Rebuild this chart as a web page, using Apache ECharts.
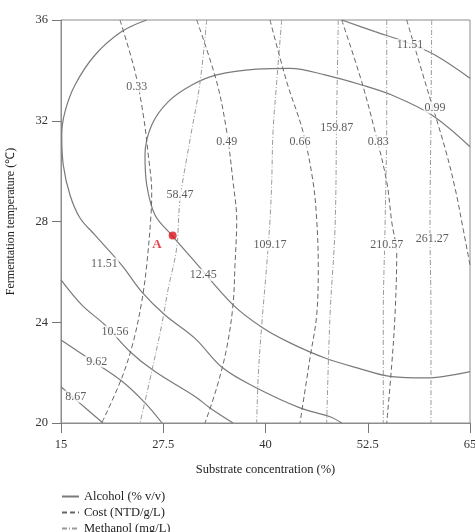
<!DOCTYPE html>
<html style="height: 100%">
<head>
<meta charset="utf-8">
<script src="https://cdn.jsdelivr.net/npm/echarts@6/dist/echarts.min.js"></script>
</head>
<body style="height: 100%; margin: 0">
<div id="contour" style="width: 475px; height: 532px"></div>
<script type="text/javascript">
// tick values
var xTicks = [15, 27.5, 40, 52.5, 65];
var yTicks = [20, 24, 28, 32, 36];

// Alcohol (% v/v) contours, solid
var alc1151a = [[25.48,36],[22.42,35.54],[19.16,34.61],[16.71,33.42],[15.49,32.36],[15.09,31.43],[15.28,30.24],[16.10,29.05],[17.32,28.14],[19.16,27.46],[22.42,26.27],[24.87,25.21],[27.71,24.29],[31.38,23.36],[34.80,22.18],[38.92,21.39],[44.22,20.60],[47.89,20.25],[49.32,20]];
var alc1151b = [[49.32,36],[53.39,35.54],[57.42,35.09],[60.72,34.61],[65,33.69]];
var alc1245 = [[65,30.97],[60.32,32.23],[55.43,33.02],[51.76,33.42],[47.27,33.82],[43.00,34.08],[38.92,34.05],[34.03,33.82],[31.0,33.42],[28.12,32.76],[26.09,31.83],[25.27,30.64],[25.48,29.45],[26.49,28.26],[28.53,27.46],[31.38,26.40],[36.03,24.69],[39.69,23.77],[43.00,23.18],[47.27,22.58],[51.31,22.18],[55.43,21.84],[59.50,21.79],[65,22.04]];
var alc1056 = [[15,25.68],[17.53,24.69],[20.38,23.89],[23.44,22.83],[26.49,22.04],[31.38,21.05],[33.22,20.60],[36.03,20]];
var alc962 = [[15,23.30],[18.30,22.58],[22.42,21.67],[25.27,20.80],[27.35,20]];
var alc867 = [[15,21.44],[17.08,20.85],[20.13,20]];

// Cost (NTD/g/L) contours, dashed
var cost033 = [[22.21,36],[24.05,33.95],[25.06,32.23],[25.67,30.64],[26.09,29.18],[26.0,28.26],[25.48,26.27],[24.87,24.82],[23.84,23.23],[22.42,21.78],[19.98,20]];
var cost049 = [[31.59,36],[34.03,33.55],[35.26,31.57],[36.03,29.58],[36.48,28.06],[36.27,26.27],[36.03,24.69],[35.26,22.98],[34.03,21.39],[32.60,20]];
var cost066 = [[40.55,36],[42.59,33.55],[44.58,31.57],[45.81,29.58],[46.26,28.06],[46.45,26.27],[46.26,24.29],[45.44,22.58],[44.22,20]];
var cost083 = [[49.32,36],[51.76,33.55],[53.39,31.57],[54.82,29.58],[55.43,27.99],[56.04,26.67],[55.83,24.29],[55.43,22.30],[54.82,20]];
var cost099 = [[57.26,36],[59.50,33.55],[61.94,30.92],[63.17,29.33],[64.14,27.74],[65,26.27]];

// Methanol (mg/L) contours, dash-dot
var meth5847 = [[32.81,36],[31.99,33.50],[30.77,31.24],[29.55,28.85],[29.14,26.94],[28.12,25.35],[27.31,23.89],[26.09,22.04],[24.66,20]];
var meth10917 = [[41.98,36],[41.37,33.55],[40.92,31.57],[40.76,29.58],[40.55,28.06],[40.15,26.27],[39.54,23.89],[39.12,21.91],[38.92,20]];
var meth15987 = [[48.90,36],[48.70,32.23],[48.50,27.74],[47.89,24.29],[47.48,20]];
var meth21057 = [[54.82,36],[54.82,32.23],[54.61,27.74],[54.40,24.29],[54.40,20]];
var meth26127 = [[60.32,36],[60.23,32.23],[60.11,27.74],[60.23,24.29],[60.23,20]];

// contour labels [x, y, text]
var contourLabels = [
  [20.3,26.33,'11.51'],[21.6,23.63,'10.56'],[19.36,22.44,'9.62'],[16.8,21.05,'8.67'],
  [32.4,25.88,'12.45'],[57.67,35.0,'11.51'],
  [24.25,33.35,'0.33'],[35.26,31.17,'0.49'],[44.22,31.17,'0.66'],[53.79,31.17,'0.83'],[60.72,32.52,'0.99'],
  [29.55,29.05,'58.47'],[40.55,27.07,'109.17'],[48.70,31.70,'159.87'],[54.82,27.07,'210.57'],[60.39,27.31,'261.27']
];

// optimum point A
var pointA = [[28.65,27.44]];

var alcoholName = 'Alcohol (% v/v)';
var costName = 'Cost (NTD/g/L)';
var methanolName = 'Methanol (mg/L)';

var serif = 'Liberation Serif';

function contour(name, data, color, type, width) {
  return {
    name: name,
    type: 'line',
    data: data,
    smooth: 0.35,
    symbol: 'none',
    silent: true,
    itemStyle: { color: color },
    lineStyle: { color: color, width: width, type: type }
  };
}

var series = [];
[alc1151a, alc1151b, alc1245, alc1056, alc962, alc867].forEach(function (d) {
  series.push(contour(alcoholName, d, '#7a7a7a', 'solid', 1.2));
});
[cost033, cost049, cost066, cost083, cost099].forEach(function (d) {
  series.push(contour(costName, d, '#666666', [5, 3], 1));
});
[meth5847, meth10917, meth15987, meth21057, meth26127].forEach(function (d) {
  series.push(contour(methanolName, d, '#9a9a9a', [5, 2, 1, 2], 1));
});

series.push({
  name: 'labels',
  type: 'scatter',
  data: contourLabels,
  symbolSize: 0,
  silent: true,
  z: 5,
  label: {
    show: true,
    position: 'inside',
    formatter: function (p) { return p.value[2]; },
    color: '#333',
    fontFamily: serif,
    fontSize: 12,
    backgroundColor: '#fff',
    padding: [0, 1]
  }
});

series.push({
  name: 'A',
  type: 'scatter',
  data: pointA,
  symbolSize: 8,
  silent: true,
  z: 6,
  itemStyle: { color: '#d9141b' },
  label: {
    show: true,
    formatter: 'A',
    position: 'left',
    offset: [-2, 9],
    color: '#e0141b',
    fontFamily: serif,
    fontWeight: 'bold',
    fontSize: 13
  }
});

var myChart = echarts.init(document.getElementById('contour'));
var option = {
  animation: false,
  backgroundColor: '#fff',
  grid: {
    left: 61, right: 5, top: 20, bottom: 109,
    containLabel: false,
    outerBoundsMode: 'none',
    show: true, borderColor: '#8c8c8c', borderWidth: 1
  },
  legend: {
    data: [alcoholName, costName, methanolName],
    orient: 'vertical',
    left: 61,
    top: 490,
    height: 60,
    padding: 0,
    itemWidth: 17,
    itemHeight: 10,
    itemGap: 3,
    selectedMode: false,
    itemStyle: { color: 'transparent', borderWidth: 0, opacity: 0 },
    textStyle: { fontFamily: serif, fontSize: 12.5, color: '#222' }
  },
  xAxis: {
    type: 'value',
    min: 15,
    max: 65,
    name: 'Substrate concentration (%)',
    nameLocation: 'middle',
    nameGap: 40,
    nameTextStyle: { fontFamily: serif, fontSize: 12.5, color: '#222' },
    splitLine: { show: false },
    axisLine: { lineStyle: { color: '#8c8c8c' } },
    axisTick: { show: true, length: 10, customValues: xTicks, lineStyle: { color: '#777' } },
    axisLabel: { customValues: xTicks, margin: 15, fontFamily: serif, fontSize: 12.5, color: '#333' }
  },
  yAxis: {
    type: 'value',
    min: 20,
    max: 36,
    interval: 4,
    name: 'Fermentation temperature (\u2103)',
    nameLocation: 'middle',
    nameGap: 44,
    nameTextStyle: { fontFamily: serif, fontSize: 12, color: '#222' },
    splitLine: { show: false },
    axisLine: { show: true, lineStyle: { color: '#8c8c8c' } },
    axisTick: { show: true, length: 9, lineStyle: { color: '#777' } },
    axisLabel: { margin: 13, fontFamily: serif, fontSize: 12.5, color: '#333' }
  },
  series: series
};
myChart.setOption(option, true);
</script>
</body>
</html>
